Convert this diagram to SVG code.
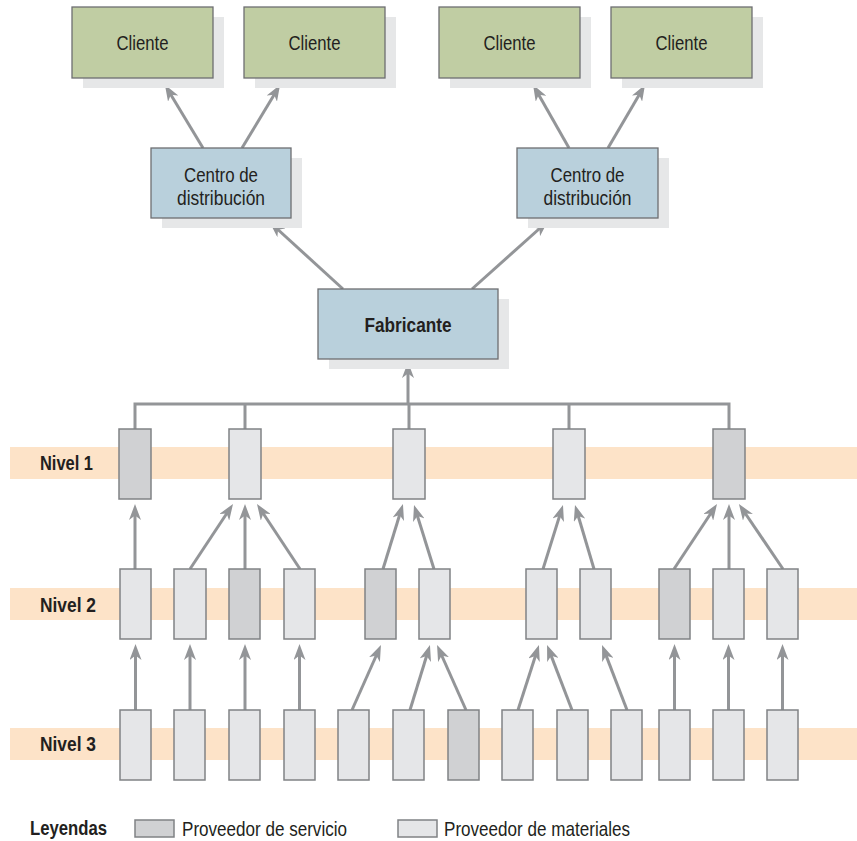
<svg xmlns="http://www.w3.org/2000/svg" width="857" height="841" viewBox="0 0 857 841">
<defs>
<style>
.shadow{fill:#e6e7e8}
.client{fill:#c0cda3;stroke:#6d6e71;stroke-width:1.3}
.blue{fill:#b9d0dc;stroke:#6d6e71;stroke-width:1.3}
.band{fill:#fde3c8}
.mat{fill:#e5e6e8;stroke:#808285;stroke-width:1.5}
.srv{fill:#d0d1d3;stroke:#808285;stroke-width:1.5}
.lbl{font-family:"Liberation Sans",Arial,sans-serif;font-size:21px;fill:#231f20}
.b{font-weight:bold}
.conn{stroke:#939598;stroke-width:3;fill:none}
.arr{marker-end:url(#ah)}
</style>
<marker id="ah" viewBox="0 0 16 12" refX="10" refY="6" markerWidth="16" markerHeight="12" markerUnits="userSpaceOnUse" orient="auto">
<path d="M0,0 L16,6 L0,12 L4.5,6 Z" fill="#939598"/>
</marker>
</defs>
<rect width="857" height="841" fill="#ffffff"/>

<g id="bands">
<rect class="band" x="10" y="447" width="847" height="32"/>
<rect class="band" x="10" y="588" width="847" height="32"/>
<rect class="band" x="10" y="728" width="847" height="32"/>
<text class="lbl b" x="40" y="470" textLength="53" lengthAdjust="spacingAndGlyphs">Nivel 1</text>
<text class="lbl b" x="40" y="612" textLength="56" lengthAdjust="spacingAndGlyphs">Nivel 2</text>
<text class="lbl b" x="40" y="751" textLength="56" lengthAdjust="spacingAndGlyphs">Nivel 3</text>
</g>

<g id="connectors">
<line class="conn arr" x1="203" y1="148" x2="168" y2="90"/>
<line class="conn arr" x1="242" y1="148" x2="277" y2="90"/>
<line class="conn arr" x1="569" y1="148" x2="536" y2="90"/>
<line class="conn arr" x1="608" y1="148" x2="642" y2="90"/>
<line class="conn arr" x1="343" y1="289" x2="274" y2="226"/>
<line class="conn arr" x1="472" y1="289" x2="543.5" y2="225"/>
<line class="conn arr" x1="408" y1="404" x2="408" y2="368"/>
<path class="conn" d="M135,429 V404 H729 V429 M245,404 V429 M409,404 V429 M569,404 V429"/>

<line class="conn arr" x1="135" y1="569" x2="135" y2="510"/>
<line class="conn arr" x1="190" y1="569" x2="229.7" y2="509"/>
<line class="conn arr" x1="245" y1="569" x2="245" y2="510"/>
<line class="conn arr" x1="300" y1="569" x2="260.3" y2="509"/>
<line class="conn arr" x1="383" y1="569" x2="401.2" y2="509.7"/>
<line class="conn arr" x1="434" y1="569" x2="415.8" y2="510.7"/>
<line class="conn arr" x1="543" y1="569" x2="561.2" y2="510.7"/>
<line class="conn arr" x1="594" y1="569" x2="576.7" y2="510.7"/>
<line class="conn arr" x1="674" y1="569" x2="713.7" y2="509"/>
<line class="conn arr" x1="729" y1="569" x2="729" y2="510"/>
<line class="conn arr" x1="783" y1="569" x2="742.3" y2="509"/>

<line class="conn arr" x1="135.5" y1="710" x2="135.5" y2="650"/>
<line class="conn arr" x1="190" y1="710" x2="190" y2="650"/>
<line class="conn arr" x1="245" y1="710" x2="245" y2="650"/>
<line class="conn arr" x1="299.5" y1="710" x2="299.5" y2="650"/>
<line class="conn arr" x1="352" y1="710" x2="378.5" y2="650.5"/>
<line class="conn arr" x1="410" y1="710" x2="428.2" y2="650.7"/>
<line class="conn arr" x1="466" y1="710" x2="439.5" y2="650.5"/>
<line class="conn arr" x1="518" y1="710" x2="537.1" y2="650.7"/>
<line class="conn arr" x1="572" y1="710" x2="549.2" y2="650.6"/>
<line class="conn arr" x1="627" y1="710" x2="604.2" y2="650.6"/>
<line class="conn arr" x1="674.5" y1="710" x2="674.5" y2="650"/>
<line class="conn arr" x1="728.5" y1="710" x2="728.5" y2="650"/>
<line class="conn arr" x1="782.5" y1="710" x2="782.5" y2="650"/>
</g>

<g id="cliente1"><rect class="shadow" x="83" y="17" width="141" height="71"/><rect class="client" x="72" y="7" width="141" height="71"/><text class="lbl" x="142.5" y="50" text-anchor="middle" textLength="52" lengthAdjust="spacingAndGlyphs">Cliente</text></g>
<g id="cliente2"><rect class="shadow" x="255" y="17" width="141" height="71"/><rect class="client" x="244" y="7" width="141" height="71"/><text class="lbl" x="314.5" y="50" text-anchor="middle" textLength="52" lengthAdjust="spacingAndGlyphs">Cliente</text></g>
<g id="cliente3"><rect class="shadow" x="450" y="17" width="141" height="71"/><rect class="client" x="439" y="7" width="141" height="71"/><text class="lbl" x="509.5" y="50" text-anchor="middle" textLength="52" lengthAdjust="spacingAndGlyphs">Cliente</text></g>
<g id="cliente4"><rect class="shadow" x="622" y="17" width="141" height="71"/><rect class="client" x="611" y="7" width="141" height="71"/><text class="lbl" x="681.5" y="50" text-anchor="middle" textLength="52" lengthAdjust="spacingAndGlyphs">Cliente</text></g>

<g id="centro1"><rect class="shadow" x="162" y="158" width="140" height="70"/><rect class="blue" x="151" y="148" width="140" height="70"/><text class="lbl" x="221" y="182" text-anchor="middle" textLength="74" lengthAdjust="spacingAndGlyphs">Centro de</text><text class="lbl" x="221" y="205" text-anchor="middle" textLength="88" lengthAdjust="spacingAndGlyphs">distribución</text></g>
<g id="centro2"><rect class="shadow" x="528" y="158" width="141" height="70"/><rect class="blue" x="517" y="148" width="141" height="70"/><text class="lbl" x="587.5" y="182" text-anchor="middle" textLength="74" lengthAdjust="spacingAndGlyphs">Centro de</text><text class="lbl" x="587.5" y="205" text-anchor="middle" textLength="88" lengthAdjust="spacingAndGlyphs">distribución</text></g>

<g id="fabricante"><rect class="shadow" x="329" y="299" width="180" height="70"/><rect class="blue" x="318" y="289" width="180" height="70"/><text class="lbl b" x="408" y="332" text-anchor="middle" textLength="87" lengthAdjust="spacingAndGlyphs">Fabricante</text></g>

<g id="nivel1">
<rect class="srv" x="119" y="429" width="32" height="70"/>
<rect class="mat" x="229" y="429" width="32" height="70"/>
<rect class="mat" x="393" y="429" width="32" height="70"/>
<rect class="mat" x="553" y="429" width="32" height="70"/>
<rect class="srv" x="713" y="429" width="32" height="70"/>
</g>
<g id="nivel2">
<rect class="mat" x="120" y="569" width="31" height="70"/>
<rect class="mat" x="174" y="569" width="32" height="70"/>
<rect class="srv" x="229" y="569" width="31" height="70"/>
<rect class="mat" x="284" y="569" width="31" height="70"/>
<rect class="srv" x="365" y="569" width="31" height="70"/>
<rect class="mat" x="419" y="569" width="31" height="70"/>
<rect class="mat" x="526" y="569" width="31" height="70"/>
<rect class="mat" x="580" y="569" width="31" height="70"/>
<rect class="srv" x="659" y="569" width="31" height="70"/>
<rect class="mat" x="713" y="569" width="31" height="70"/>
<rect class="mat" x="767" y="569" width="31" height="70"/>
</g>
<g id="nivel3">
<rect class="mat" x="120" y="710" width="31" height="70"/>
<rect class="mat" x="174" y="710" width="31" height="70"/>
<rect class="mat" x="229" y="710" width="31" height="70"/>
<rect class="mat" x="284" y="710" width="31" height="70"/>
<rect class="mat" x="338" y="710" width="31" height="70"/>
<rect class="mat" x="393" y="710" width="31" height="70"/>
<rect class="srv" x="448" y="710" width="31" height="70"/>
<rect class="mat" x="502" y="710" width="31" height="70"/>
<rect class="mat" x="557" y="710" width="31" height="70"/>
<rect class="mat" x="611" y="710" width="31" height="70"/>
<rect class="mat" x="659" y="710" width="31" height="70"/>
<rect class="mat" x="713" y="710" width="31" height="70"/>
<rect class="mat" x="767" y="710" width="31" height="70"/>
</g>

<g id="leyendas">
<text class="lbl b" x="30" y="835" textLength="77" lengthAdjust="spacingAndGlyphs">Leyendas</text>
<rect class="srv" x="135" y="820" width="39" height="17"/>
<text class="lbl" x="182" y="836" textLength="165" lengthAdjust="spacingAndGlyphs">Proveedor de servicio</text>
<rect class="mat" x="398" y="820" width="39" height="17"/>
<text class="lbl" x="444" y="836" textLength="186" lengthAdjust="spacingAndGlyphs">Proveedor de materiales</text>
</g>
</svg>
